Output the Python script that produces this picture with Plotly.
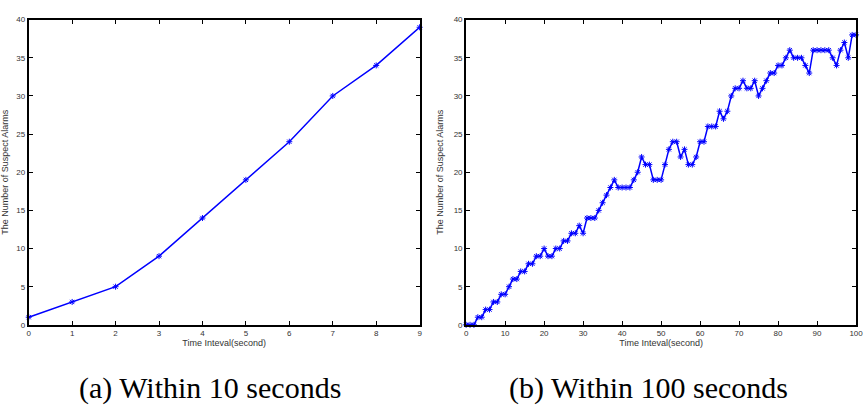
import plotly.graph_objects as go

W, H = 868, 412

# Data
left_x = [0, 1, 2, 3, 4, 5, 6, 7, 8, 9]
left_y = [1, 3, 5, 9, 14, 19, 24, 30, 34, 39]

right_x = list(range(0, 101))
right_y = [0, 0, 0, 1, 1, 2, 2, 3, 3, 4,
           4, 5, 6, 6, 7, 7, 8, 8, 9, 9,
           10, 9, 9, 10, 10, 11, 11, 12, 12, 13,
           12, 14, 14, 14, 15, 16, 17, 18, 19, 18,
           18, 18, 18, 19, 20, 22, 21, 21, 19, 19,
           19, 21, 23, 24, 24, 22, 23, 21, 21, 22,
           24, 24, 26, 26, 26, 28, 27, 28, 30, 31,
           31, 32, 31, 31, 32, 30, 31, 32, 33, 33,
           34, 34, 35, 36, 35, 35, 35, 34, 33, 36,
           36, 36, 36, 36, 35, 34, 36, 37, 35, 38,
           38]

x_title = "Time Inteval(second)"
y_title = "The Number of Suspect Alarms"
captions = ["(a) Within 10 seconds", "(b) Within 100 seconds"]

# Layout in pixels
top_px, bot_px = 16, 328
left_dom_px = (27, 422)
right_dom_px = (469, 863)

def xd(p):
    return [p[0] / W, p[1] / W]

ydom = [(H - bot_px) / H, (H - top_px) / H]

fig = go.Figure()
line_style = dict(color="#0000ff", width=1.5)
marker_style = dict(symbol="asterisk-open", size=5, color="#0000ff",
                    line=dict(color="#0000ff", width=1))

fig.add_trace(go.Scatter(x=left_x, y=left_y, mode="lines+markers",
                         line=line_style, marker=marker_style,
                         xaxis="x", yaxis="y", showlegend=False,
                         cliponaxis=False))
fig.add_trace(go.Scatter(x=right_x, y=right_y, mode="lines+markers",
                         line=line_style, marker=marker_style,
                         xaxis="x2", yaxis="y2", showlegend=False,
                         cliponaxis=False))

axis_common = dict(showline=True, linecolor="black", linewidth=2,
                   mirror="ticks", ticks="inside", ticklen=4,
                   tickcolor="black", tickwidth=1, showgrid=False,
                   zeroline=False,
                   tickfont=dict(family="Liberation Sans, Arial", size=8,
                                 color="#333333"))
title_font = dict(family="Liberation Sans, Arial", size=9, color="#333333")

fig.update_layout(
    width=W, height=H,
    margin=dict(l=0, r=0, t=0, b=0),
    paper_bgcolor="white", plot_bgcolor="white",
    xaxis=dict(domain=xd(left_dom_px), range=[0, 9], dtick=1, anchor="y",
               title=dict(text=x_title, font=title_font, standoff=2),
               **axis_common),
    yaxis=dict(domain=ydom, range=[0, 40], dtick=5, anchor="x",
               title=dict(text=y_title, font=title_font, standoff=8),
               **axis_common),
    xaxis2=dict(domain=xd(right_dom_px), range=[0, 100], dtick=10,
                anchor="y2",
                title=dict(text=x_title, font=title_font, standoff=2),
                **axis_common),
    yaxis2=dict(domain=ydom, range=[0, 40], dtick=5, anchor="x2",
                title=dict(text=y_title, font=title_font, standoff=8),
                **axis_common),
)

cap_font = dict(family="'Liberation Serif', 'DejaVu Serif', 'Times New Roman', serif",
                size=30, color="black")
for cx, text in zip([210.5, 653], captions):
    fig.add_annotation(text=text, xref="paper", yref="paper",
                       x=cx / W, y=0, xanchor="center",
                       yanchor="bottom", showarrow=False, font=cap_font)

fig.write_html("out.html")
